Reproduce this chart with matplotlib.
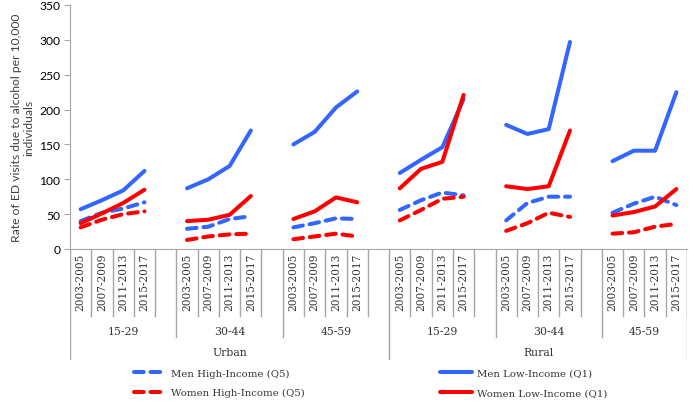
import matplotlib
matplotlib.use("Agg")
import matplotlib.pyplot as plt

# -----------------------------
# Data (rate per 10,000)
# -----------------------------
AREAS = ["Urban", "Rural"]
AGE_GROUPS = ["15-29", "30-44", "45-59"]
PERIODS = ["2003-2005", "2007-2009", "2011-2013", "2015-2017"]

# one list of 4 periods per area/age group, in order:
# Urban 15-29, Urban 30-44, Urban 45-59, Rural 15-29, Rural 30-44, Rural 45-59
men_high = [
    [40, 52, 58, 67], [29, 32, 43, 47], [31, 37, 44, 43],
    [56, 70, 81, 77], [41, 66, 75, 75], [52, 65, 75, 63],
]
men_low = [
    [57, 70, 84, 112], [87, 100, 119, 170], [150, 168, 203, 226],
    [109, 128, 146, 215], [178, 165, 172, 297], [126, 141, 141, 225],
]
women_high = [
    [31, 42, 50, 54], [13, 18, 21, 22], [14, 18, 22, 18],
    [41, 56, 72, 75], [26, 37, 52, 46], [22, 24, 32, 36],
]
women_low = [
    [37, 51, 66, 85], [40, 42, 49, 76], [43, 54, 74, 67],
    [87, 115, 125, 221], [90, 86, 90, 170], [48, 53, 61, 86],
]

BLUE = "#3366ff"
RED = "#ff0000"
GRID = "#a6a6a6"
DASH = (0, (2.4, 1.7))

# legend fills column by column, so this order gives
# row 1: Men High / Men Low, row 2: Women High / Women Low
SERIES = [
    ("Men High-Income (Q5)", men_high, BLUE, DASH),
    ("Women High-Income (Q5)", women_high, RED, DASH),
    ("Men Low-Income (Q1)", men_low, BLUE, "-"),
    ("Women Low-Income (Q1)", women_low, RED, "-"),
]

W, H = 689, 402
fig = plt.figure(figsize=(W / 100, H / 100), dpi=100)

L, R, B, T = 70, 687, 250, 6
ax = fig.add_axes([L / W, 1 - B / H, (R - L) / W, (B - T) / H])

n_groups = len(AREAS) * len(AGE_GROUPS)
slot = len(PERIODS) + 1  # 4 periods + blank gap
xmax = n_groups * slot - 1


def xs(g):
    return [g * slot + p for p in range(len(PERIODS))]


for label, data, color, ls in SERIES:
    for g in range(n_groups):
        ax.plot(xs(g), data[g], color=color, lw=2.9, linestyle=ls,
                solid_capstyle="round", dash_capstyle="round",
                solid_joinstyle="round",
                label=label if g == 0 else None)

ax.set_xlim(-0.5, xmax - 0.5)
ax.set_ylim(0, 350)
ax.set_yticks(range(0, 351, 50))
ax.tick_params(axis="y", length=4, color=GRID, labelsize=8.7, pad=3)
for t in ax.get_yticklabels():
    t.set_fontfamily("Lato")
ax.set_xticks([])
for s in ["top", "right"]:
    ax.spines[s].set_visible(False)
ax.spines["left"].set_color(GRID)
ax.spines["bottom"].set_color(GRID)

ax.set_ylabel("Rate of ED visits due to alcohol per 10,000\nindividuals",
              fontsize=8.7, family="Lato", color="#404040",
              linespacing=1.1)
ax.yaxis.set_label_coords(-0.058, 0.5)

# -----------------------------
# Multi-level category axis (drawn in pixel coordinates below the plot)
# -----------------------------
cax = fig.add_axes([L / W, 0, (R - L) / W, 1 - B / H])
cax.set_xlim(-0.5, xmax - 0.5)
cax.set_ylim(H, B)
cax.axis("off")

serif = "DejaVu Serif"
lc = dict(color=GRID, lw=1.0)

for g in range(n_groups):
    start = g * slot - 0.5
    for p, per in enumerate(PERIODS):
        x = g * slot + p
        cax.text(x, B + 4, per, rotation=90, ha="center", va="top",
                 fontsize=7.6, family=serif, color="#333333")
        cax.plot([x + 0.5, x + 0.5], [B, 317], **lc)
    # group label
    cax.text(start + slot / 2 if g < n_groups - 1 else start + 2, 332,
             AGE_GROUPS[g % 3], ha="center", va="center",
             fontsize=7.8, family=serif, color="#333333")
    if g % 3 != 0:
        cax.plot([start, start], [B, 338], **lc)

n_per_area = len(AGE_GROUPS) * slot
for a, area in enumerate(AREAS):
    start = a * n_per_area - 0.5
    end = min(start + n_per_area, xmax - 0.5)
    cax.plot([start, start], [B, 360], **lc)
    cax.text((start + end) / 2, 353, area, ha="center", va="center",
             fontsize=7.8, family=serif, color="#333333")
cax.plot([xmax - 0.5, xmax - 0.5], [B, 360], **lc)

# -----------------------------
# Legend
# -----------------------------
handles, labels = ax.get_legend_handles_labels()
leg = fig.legend(handles, labels, ncol=2, loc="center left",
                 bbox_to_anchor=(125 / W, 1 - 384 / H), frameon=False,
                 prop={"family": serif, "size": 7.3}, handlelength=3.2,
                 handletextpad=0.45, columnspacing=13.3, labelspacing=1.05,
                 labelcolor="#333333")

fig.savefig("out.png", dpi=100)
